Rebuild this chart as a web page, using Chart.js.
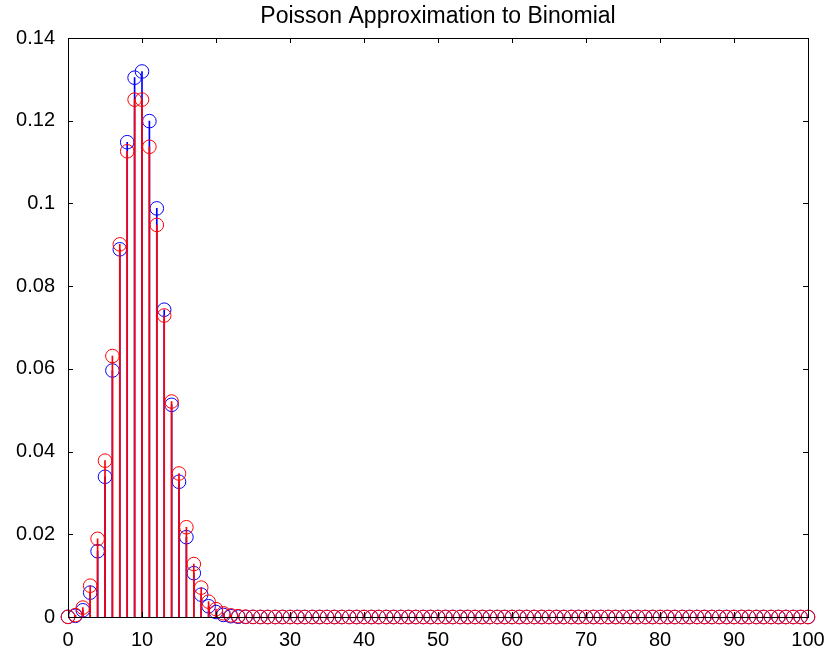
<!DOCTYPE html>
<html>
<head>
<meta charset="utf-8">
<script src="https://cdn.jsdelivr.net/npm/chart.js@4/dist/chart.umd.min.js"></script>
<style>
  html, body { margin: 0; padding: 0; background: #fff; }
  #wrap { width: 832px; height: 649px; }
</style>
</head>
<body>
<div id="wrap"><canvas id="stemChart" width="832" height="649"></canvas></div>
<script>
// ─── Data ──────────────────────────────────────────────────────────────────────

const chartTitle = 'Poisson Approximation to Binomial';

const ks = [
  0, 1, 2, 3, 4, 5, 6, 7, 8, 9, 10, 11, 12, 13, 14, 15, 16, 17, 18, 19,
  20, 21, 22, 23, 24, 25, 26, 27, 28, 29, 30, 31, 32, 33, 34, 35, 36, 37, 38, 39,
  40, 41, 42, 43, 44, 45, 46, 47, 48, 49, 50, 51, 52, 53, 54, 55, 56, 57, 58, 59,
  60, 61, 62, 63, 64, 65, 66, 67, 68, 69, 70, 71, 72, 73, 74, 75, 76, 77, 78, 79,
  80, 81, 82, 83, 84, 85, 86, 87, 88, 89, 90, 91, 92, 93, 94, 95, 96, 97, 98, 99, 100,
];

// binomial probabilities (blue)
const binomVals = [
  0.0000266, 0.000295, 0.00162, 0.00589, 0.0159, 0.0339, 0.0596, 0.0889, 0.1148, 0.1304,
  0.1319, 0.1199, 0.0988, 0.0743, 0.0513, 0.0327, 0.0193, 0.0106, 0.0054, 0.0026,
  0.0012, 0.0005, 0.0002, 0.00007, 0.00003, 0.00001, 0, 0, 0, 0,
  0, 0, 0, 0, 0, 0, 0, 0, 0, 0,
  0, 0, 0, 0, 0, 0, 0, 0, 0, 0,
  0, 0, 0, 0, 0, 0, 0, 0, 0, 0,
  0, 0, 0, 0, 0, 0, 0, 0, 0, 0,
  0, 0, 0, 0, 0, 0, 0, 0, 0, 0,
  0, 0, 0, 0, 0, 0, 0, 0, 0, 0,
  0, 0, 0, 0, 0, 0, 0, 0, 0, 0, 0,
];

// poisson probabilities (red)
const poissonVals = [
  0.0000454, 0.000454, 0.00227, 0.00757, 0.0189, 0.0378, 0.0631, 0.0901, 0.1126, 0.1251,
  0.1251, 0.1137, 0.0948, 0.0729, 0.0521, 0.0347, 0.0217, 0.0128, 0.0071, 0.0037,
  0.0019, 0.0009, 0.0004, 0.0002, 0.00007, 0.00003, 0.00001, 0, 0, 0,
  0, 0, 0, 0, 0, 0, 0, 0, 0, 0,
  0, 0, 0, 0, 0, 0, 0, 0, 0, 0,
  0, 0, 0, 0, 0, 0, 0, 0, 0, 0,
  0, 0, 0, 0, 0, 0, 0, 0, 0, 0,
  0, 0, 0, 0, 0, 0, 0, 0, 0, 0,
  0, 0, 0, 0, 0, 0, 0, 0, 0, 0,
  0, 0, 0, 0, 0, 0, 0, 0, 0, 0, 0,
];

const xTicks = [0, 10, 20, 30, 40, 50, 60, 70, 80, 90, 100];
const yTicks = [0, 0.02, 0.04, 0.06, 0.08, 0.1, 0.12, 0.14];

// ─── Helpers ───────────────────────────────────────────────────────────────────

const BLUE = '#0000ff';
const RED = '#ff0000';
const FONT = 'Arial, "Liberation Sans", sans-serif';

const pts = (vals) => ks.map((k, i) => ({ x: k, y: vals[i] }));

/** Box around the plot area, inward ticks on all four sides, and the title. */
const matlabFrame = {
  id: 'matlabFrame',
  afterDraw(chart) {
    const { ctx, chartArea: a, scales } = chart;
    const len = 5;
    ctx.save();
    ctx.strokeStyle = '#000';
    ctx.lineWidth = 1;
    ctx.beginPath();
    xTicks.forEach((v) => {
      const px = Math.round(scales.x.getPixelForValue(v)) + 0.5;
      ctx.moveTo(px, a.bottom); ctx.lineTo(px, a.bottom - len);
      ctx.moveTo(px, a.top); ctx.lineTo(px, a.top + len);
    });
    yTicks.forEach((v) => {
      const py = Math.round(scales.y.getPixelForValue(v)) + 0.5;
      ctx.moveTo(a.left, py); ctx.lineTo(a.left + len, py);
      ctx.moveTo(a.right, py); ctx.lineTo(a.right - len, py);
    });
    ctx.stroke();
    ctx.strokeRect(Math.round(a.left) + 0.5, Math.round(a.top) + 0.5,
      Math.round(a.right - a.left), Math.round(a.bottom - a.top));

    ctx.fillStyle = '#000';
    ctx.font = `23px ${FONT}`;
    ctx.textAlign = 'center';
    ctx.textBaseline = 'middle';
    ctx.fillText(chartTitle, (a.left + a.right) / 2, 17);
    ctx.restore();
  },
};

// ─── Chart ─────────────────────────────────────────────────────────────────────

const canvas = document.getElementById('stemChart');
canvas.setAttribute('role', 'img');
canvas.setAttribute('aria-label', chartTitle);

new Chart(canvas.getContext('2d'), {
  type: 'scatter',
  data: {
    datasets: [
      { type: 'bar', data: pts(binomVals), backgroundColor: BLUE, barThickness: 1, grouped: false, order: 4 },
      { type: 'scatter', data: pts(binomVals), borderColor: BLUE, backgroundColor: 'transparent',
        pointRadius: 6.8, borderWidth: 1, clip: false, order: 3 },
      { type: 'bar', data: pts(poissonVals), backgroundColor: RED, barThickness: 1, grouped: false, order: 2 },
      { type: 'scatter', data: pts(poissonVals), borderColor: RED, backgroundColor: 'transparent',
        pointRadius: 6.8, borderWidth: 1, clip: false, order: 1 },
    ],
  },
  options: {
    responsive: false,
    animation: false,
    layout: { padding: { top: 38, right: 24, left: 0, bottom: 0 } },
    plugins: { legend: { display: false }, tooltip: { enabled: false }, title: { display: false } },
    scales: {
      x: {
        type: 'linear', min: 0, max: 100, offset: false,
        afterBuildTicks: (s) => { s.ticks = xTicks.map((v) => ({ value: v })); },
        afterFit: (s) => { s.height = 32; },
        grid: { display: false }, border: { display: false },
        ticks: { color: '#000', font: { family: FONT, size: 20 }, padding: 3, maxRotation: 0 },
      },
      y: {
        min: 0, max: 0.14,
        afterBuildTicks: (s) => { s.ticks = yTicks.map((v) => ({ value: v })); },
        afterFit: (s) => { s.width = 68; },
        grid: { display: false }, border: { display: false },
        ticks: { color: '#000', font: { family: FONT, size: 20 }, padding: 5,
          callback: (v) => String(+v.toFixed(2)) },
      },
    },
  },
  plugins: [matlabFrame],
});
</script>
</body>
</html>
